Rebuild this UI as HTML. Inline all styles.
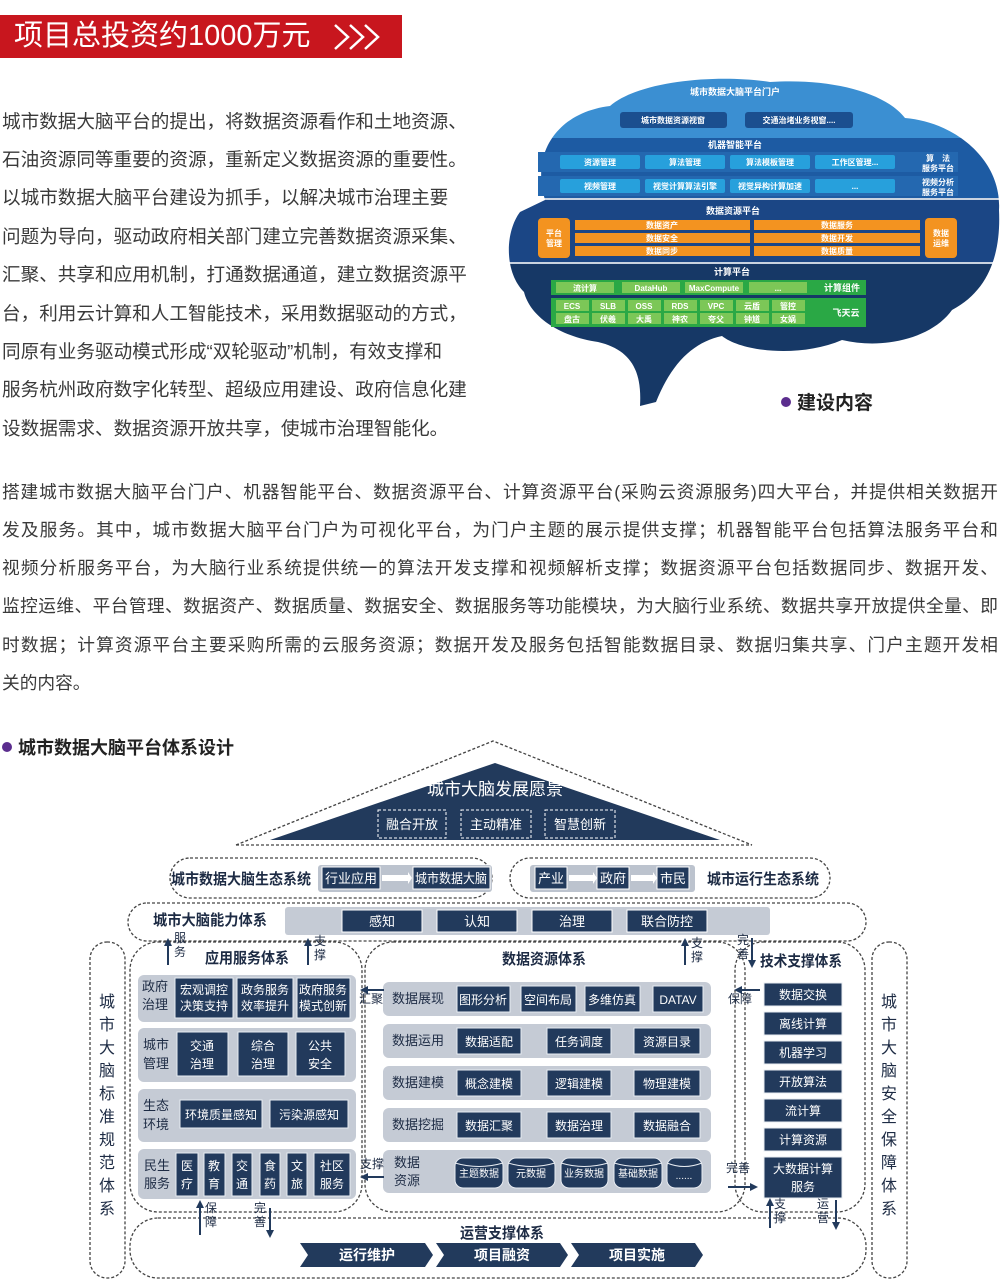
<!DOCTYPE html>
<html><head><meta charset="utf-8">
<style>
*{margin:0;padding:0;box-sizing:border-box}
body{width:1000px;height:1282px;background:#fff;position:relative;overflow:hidden;font-family:"Liberation Sans","Noto Sans CJK SC",sans-serif;color:#3a3a3a}
.l{position:absolute;left:2px;height:38px;line-height:38px;font-size:18.6px;white-space:nowrap}
.w{position:absolute;left:2px;width:996px;height:38px;line-height:38px;font-size:17.7px;text-align:justify;text-align-last:justify;white-space:nowrap}
svg text{font-family:"Liberation Sans","Noto Sans CJK SC",sans-serif}
</style></head><body>
<div style="position:absolute;left:0;top:15px;width:402px;height:43px;background:#c8161e"></div>
<div style="position:absolute;left:14px;top:15px;height:43px;line-height:43px;color:#fff;font-size:29px;white-space:nowrap">项目总投资约1000万元</div>
<svg style="position:absolute;left:330px;top:20px" width="60" height="34"><g fill="none" stroke="#fff" stroke-width="2.5"><polyline points="5,5 18,17 5,29"/><polyline points="20,5 33,17 20,29"/><polyline points="35,5 48,17 35,29"/></g></svg>

<div class="l" style="top:103px">城市数据大脑平台的提出，将数据资源看作和土地资源、</div>
<div class="l" style="top:141px">石油资源同等重要的资源，重新定义数据资源的重要性。</div>
<div class="l" style="top:179px">以城市数据大脑平台建设为抓手，以解决城市治理主要</div>
<div class="l" style="top:218px">问题为导向，驱动政府相关部门建立完善数据资源采集、</div>
<div class="l" style="top:256px">汇聚、共享和应用机制，打通数据通道，建立数据资源平</div>
<div class="l" style="top:295px">台，利用云计算和人工智能技术，采用数据驱动的方式，</div>
<div class="l" style="top:333px">同原有业务驱动模式形成“双轮驱动”机制，有效支撑和</div>
<div class="l" style="top:371px">服务杭州政府数字化转型、超级应用建设、政府信息化建</div>
<div class="l" style="top:410px">设数据需求、数据资源开放共享，使城市治理智能化。</div>

<div class="w" style="top:473px">搭建城市数据大脑平台门户、机器智能平台、数据资源平台、计算资源平台(采购云资源服务)四大平台，并提供相关数据开</div>
<div class="w" style="top:511px">发及服务。其中，城市数据大脑平台门户为可视化平台，为门户主题的展示提供支撑；机器智能平台包括算法服务平台和</div>
<div class="w" style="top:549px">视频分析服务平台，为大脑行业系统提供统一的算法开发支撑和视频解析支撑；数据资源平台包括数据同步、数据开发、</div>
<div class="w" style="top:587px">监控运维、平台管理、数据资产、数据质量、数据安全、数据服务等功能模块，为大脑行业系统、数据共享开放提供全量、即</div>
<div class="w" style="top:626px">时数据；计算资源平台主要采购所需的云服务资源；数据开发及服务包括智能数据目录、数据归集共享、门户主题开发相</div>
<div class="l" style="top:664px;font-size:17.7px">关的内容。</div>

<svg style="position:absolute;left:0;top:0" width="1000" height="1282">
<defs>
<clipPath id="br"><path d="M545 200 C530 150 560 112 610 106 C640 80 720 74 770 82 C830 78 885 92 905 118 C955 122 1002 160 999 210 C1001 252 990 290 952 310 C932 338 884 350 842 340 C800 358 742 352 722 336 C694 342 672 362 656 402 L640 406 C642 372 632 350 598 342 C558 336 530 316 524 292 C504 272 505 232 520 212 Z"/></clipPath>
</defs>
<g clip-path="url(#br)">
<rect x="500" y="60" width="500" height="78" fill="#3b8fd2"/>
<rect x="500" y="138" width="500" height="60" fill="#1d5ba3"/>
<rect x="500" y="200" width="500" height="62" fill="#1b4685"/>
<rect x="500" y="264" width="500" height="160" fill="#163866"/>
<rect x="500" y="198" width="500" height="2" fill="#c9d3e0"/>
<rect x="500" y="262" width="500" height="2" fill="#c9d3e0"/>
</g>
<g font-size="8" font-weight="bold" fill="#fff" text-anchor="middle">
<text x="735" y="95" font-size="9">城市数据大脑平台门户</text>
<rect x="620" y="112" width="107" height="16" rx="3" fill="#1b4f8f"/><text x="673" y="123">城市数据资源视窗</text>
<rect x="745" y="112" width="108" height="16" rx="3" fill="#1b4f8f"/><text x="799" y="123">交通治堵业务视窗....</text>
<text x="735" y="148" font-size="9">机器智能平台</text>
<rect x="538" y="152" width="420" height="20" fill="#2468b0"/><rect x="538" y="176" width="420" height="20" fill="#2468b0"/>
<rect x="560" y="155" width="80" height="14" rx="2" fill="#27a0dc"/><text x="600" y="165">资源管理</text>
<rect x="645" y="155" width="80" height="14" rx="2" fill="#27a0dc"/><text x="685" y="165">算法管理</text>
<rect x="730" y="155" width="80" height="14" rx="2" fill="#27a0dc"/><text x="770" y="165">算法模板管理</text>
<rect x="815" y="155" width="80" height="14" rx="2" fill="#27a0dc"/><text x="855" y="165">工作区管理...</text>
<rect x="560" y="179" width="80" height="14" rx="2" fill="#27a0dc"/><text x="600" y="189">视频管理</text>
<rect x="645" y="179" width="80" height="14" rx="2" fill="#27a0dc"/><text x="685" y="189">视觉计算算法引擎</text>
<rect x="730" y="179" width="80" height="14" rx="2" fill="#27a0dc"/><text x="770" y="189">视觉异构计算加速</text>
<rect x="815" y="179" width="80" height="14" rx="2" fill="#27a0dc"/><text x="855" y="189">...</text>
<text x="938" y="161">算　法</text><text x="938" y="171">服务平台</text>
<text x="938" y="185">视频分析</text><text x="938" y="195">服务平台</text>
<text x="733" y="214" font-size="9">数据资源平台</text>
<rect x="538" y="218" width="32" height="40" rx="4" fill="#f39320"/><text x="554" y="236">平台</text><text x="554" y="246">管理</text>
<rect x="925" y="218" width="32" height="40" rx="4" fill="#f39320"/><text x="941" y="236">数据</text><text x="941" y="246">运维</text>
<rect x="575" y="220" width="175" height="10" fill="#f39320"/><text x="662" y="228">数据资产</text>
<rect x="575" y="233" width="175" height="10" fill="#f39320"/><text x="662" y="241">数据安全</text>
<rect x="575" y="246" width="175" height="10" fill="#f39320"/><text x="662" y="254">数据同步</text>
<rect x="754" y="220" width="166" height="10" fill="#f39320"/><text x="837" y="228">数据服务</text>
<rect x="754" y="233" width="166" height="10" fill="#f39320"/><text x="837" y="241">数据开发</text>
<rect x="754" y="246" width="166" height="10" fill="#f39320"/><text x="837" y="254">数据质量</text>
<text x="732" y="275" font-size="9">计算平台</text>
<rect x="551" y="280" width="315" height="15" fill="#2aa845"/>
<rect x="556" y="282" width="58" height="11" fill="#7cc757"/><text x="585" y="291">流计算</text>
<rect x="622" y="282" width="58" height="11" fill="#7cc757"/><text x="651" y="291">DataHub</text>
<rect x="685" y="282" width="58" height="11" fill="#7cc757"/><text x="714" y="291">MaxCompute</text>
<rect x="749" y="282" width="58" height="11" fill="#7cc757"/><text x="778" y="291">...</text>
<text x="842" y="291" font-size="9">计算组件</text>
<rect x="551" y="298" width="315" height="29" fill="#2aa845"/>
<g>
<rect x="556" y="300" width="33" height="11" fill="#7cc757"/><text x="572" y="309">ECS</text>
<rect x="592" y="300" width="33" height="11" fill="#7cc757"/><text x="608" y="309">SLB</text>
<rect x="628" y="300" width="33" height="11" fill="#7cc757"/><text x="644" y="309">OSS</text>
<rect x="664" y="300" width="33" height="11" fill="#7cc757"/><text x="680" y="309">RDS</text>
<rect x="700" y="300" width="33" height="11" fill="#7cc757"/><text x="716" y="309">VPC</text>
<rect x="736" y="300" width="33" height="11" fill="#7cc757"/><text x="752" y="309">云盾</text>
<rect x="772" y="300" width="33" height="11" fill="#7cc757"/><text x="788" y="309">管控</text>
<rect x="556" y="313" width="33" height="11" fill="#7cc757"/><text x="572" y="322">盘古</text>
<rect x="592" y="313" width="33" height="11" fill="#7cc757"/><text x="608" y="322">伏羲</text>
<rect x="628" y="313" width="33" height="11" fill="#7cc757"/><text x="644" y="322">大禹</text>
<rect x="664" y="313" width="33" height="11" fill="#7cc757"/><text x="680" y="322">神农</text>
<rect x="700" y="313" width="33" height="11" fill="#7cc757"/><text x="716" y="322">夸父</text>
<rect x="736" y="313" width="33" height="11" fill="#7cc757"/><text x="752" y="322">钟馗</text>
<rect x="772" y="313" width="33" height="11" fill="#7cc757"/><text x="788" y="322">女娲</text>
</g>
<text x="846" y="316" font-size="9">飞天云</text>
</g>
<circle cx="786" cy="402" r="5" fill="#5b2d8e"/>
<text x="797" y="409" font-size="19" font-weight="bold" fill="#222">建设内容</text>

<circle cx="7" cy="747" r="5" fill="#5b2d8e"/>
<text x="18" y="754" font-size="18" font-weight="bold" fill="#222">城市数据大脑平台体系设计</text>

<g fill="none" stroke="#444" stroke-width="1.3" stroke-dasharray="3,2">
<polyline points="236,845 493,741 752,845"/>
<line x1="236" y1="845" x2="752" y2="845"/>
<rect x="170" y="858" width="322" height="40" rx="20"/>
<rect x="510" y="858" width="320" height="40" rx="20"/>
<rect x="128" y="903" width="738" height="38" rx="19"/>
<rect x="90" y="942" width="35" height="336" rx="17"/>
<rect x="872" y="942" width="35" height="336" rx="17"/>
<rect x="130" y="942" width="232" height="270" rx="28"/>
<rect x="365" y="942" width="380" height="270" rx="28"/>
<rect x="735" y="942" width="130" height="270" rx="28"/>
<rect x="130" y="1218" width="736" height="60" rx="28"/>
</g>
<polygon points="495,763 270,840 720,840" fill="#223a5c"/>
<text x="495" y="795" font-size="17" fill="#fff" text-anchor="middle">城市大脑发展愿景</text>
<g fill="none" stroke="#fff" stroke-dasharray="3,2"><rect x="378" y="810" width="68" height="28"/><rect x="461" y="810" width="70" height="28"/><rect x="545" y="810" width="70" height="28"/></g>
<g font-size="13" fill="#fff" text-anchor="middle"><text x="412" y="829">融合开放</text><text x="496" y="829">主动精准</text><text x="580" y="829">智慧创新</text></g>

<g font-size="15" font-weight="bold" fill="#1d2b44">
<text x="171" y="884" textLength="140" lengthAdjust="spacingAndGlyphs">城市数据大脑生态系统</text>
<text x="707" y="884" textLength="112" lengthAdjust="spacingAndGlyphs">城市运行生态系统</text>
<text x="153" y="925" textLength="114" lengthAdjust="spacingAndGlyphs">城市大脑能力体系</text>
<text x="205" y="963" textLength="84" lengthAdjust="spacingAndGlyphs">应用服务体系</text>
<text x="502" y="964" textLength="84" lengthAdjust="spacingAndGlyphs">数据资源体系</text>
<text x="760" y="966" textLength="82" lengthAdjust="spacingAndGlyphs">技术支撑体系</text>
<text x="460" y="1238" textLength="84" lengthAdjust="spacingAndGlyphs">运营支撑体系</text>
</g>
<rect x="318" y="865" width="174" height="27" rx="3" fill="#bcc3ce"/>
<rect x="530" y="865" width="165" height="27" rx="3" fill="#bcc3ce"/>
<rect x="285" y="907" width="485" height="28" rx="3" fill="#c5cbd5"/>
<g fill="#223a5c" stroke="#fff" stroke-width="1">
<rect x="322" y="867" width="58" height="22"/><rect x="413" y="867" width="77" height="22"/>
<rect x="535" y="867" width="32" height="22"/><rect x="597" y="867" width="32" height="22"/><rect x="657" y="867" width="32" height="22"/>
<rect x="342" y="910" width="80" height="22"/><rect x="437" y="910" width="80" height="22"/><rect x="532" y="910" width="80" height="22"/><rect x="627" y="910" width="80" height="22"/>
</g>
<g fill="#fff"><polygon points="382,875 408,875 408,872 412,878 408,884 408,881 382,881"/><polygon points="569,875 593,875 593,872 597,878 593,884 593,881 569,881"/><polygon points="631,875 653,875 653,872 657,878 653,884 653,881 631,881"/></g>
<g font-size="13" fill="#fff" text-anchor="middle">
<text x="351" y="883" textLength="52" lengthAdjust="spacingAndGlyphs">行业应用</text><text x="451" y="883" textLength="72" lengthAdjust="spacingAndGlyphs">城市数据大脑</text>
<text x="551" y="883">产业</text><text x="613" y="883">政府</text><text x="673" y="883">市民</text>
<text x="382" y="926">感知</text><text x="477" y="926">认知</text><text x="572" y="926">治理</text><text x="667" y="926">联合防控</text>
</g>

<g font-size="16" fill="#1d2b44" text-anchor="middle">
<text x="107" y="1007">城</text><text x="107" y="1030">市</text><text x="107" y="1053">大</text><text x="107" y="1076">脑</text><text x="107" y="1099">标</text><text x="107" y="1122">准</text><text x="107" y="1145">规</text><text x="107" y="1168">范</text><text x="107" y="1191">体</text><text x="107" y="1214">系</text>
<text x="889" y="1007">城</text><text x="889" y="1030">市</text><text x="889" y="1053">大</text><text x="889" y="1076">脑</text><text x="889" y="1099">安</text><text x="889" y="1122">全</text><text x="889" y="1145">保</text><text x="889" y="1168">障</text><text x="889" y="1191">体</text><text x="889" y="1214">系</text>
</g>

<g fill="#c5cbd5">
<rect x="138" y="975" width="218" height="47" rx="6"/><rect x="138" y="1028" width="218" height="54" rx="6"/><rect x="138" y="1089" width="218" height="53" rx="6"/><rect x="138" y="1149" width="218" height="50" rx="6"/>
<rect x="383" y="982" width="328" height="34" rx="6"/><rect x="383" y="1024" width="328" height="34" rx="6"/><rect x="383" y="1066" width="328" height="34" rx="6"/><rect x="383" y="1108" width="328" height="34" rx="6"/><rect x="383" y="1150" width="328" height="43" rx="6"/>
</g>
<g font-size="13" fill="#1d2b44" text-anchor="middle">
<text x="155" y="991">政府</text><text x="155" y="1009">治理</text>
<text x="156" y="1049">城市</text><text x="156" y="1068">管理</text>
<text x="156" y="1110">生态</text><text x="156" y="1129">环境</text>
<text x="157" y="1170">民生</text><text x="157" y="1188">服务</text>
<text x="418" y="1003">数据展现</text><text x="418" y="1045">数据运用</text><text x="418" y="1087">数据建模</text><text x="418" y="1129">数据挖掘</text>
<text x="407" y="1167">数据</text><text x="407" y="1185">资源</text>
</g>
<g fill="#223a5c" stroke="#e8ecf2" stroke-width="1">
<rect x="175" y="978" width="58" height="40"/><rect x="237" y="978" width="56" height="40"/><rect x="297" y="978" width="53" height="40"/>
<rect x="177" y="1032" width="51" height="44"/><rect x="238" y="1032" width="50" height="44"/><rect x="296" y="1032" width="49" height="44"/>
<rect x="180" y="1100" width="82" height="28"/><rect x="270" y="1100" width="78" height="28"/>
<rect x="176" y="1153" width="22" height="43"/><rect x="204" y="1153" width="21" height="43"/><rect x="232" y="1153" width="20" height="43"/><rect x="260" y="1153" width="20" height="43"/><rect x="287" y="1153" width="20" height="43"/><rect x="314" y="1153" width="36" height="43"/>
<rect x="457" y="986" width="53" height="26"/><rect x="521" y="986" width="55" height="26"/><rect x="585" y="986" width="55" height="26"/><rect x="653" y="986" width="50" height="26"/>
<rect x="457" y="1028" width="64" height="26"/><rect x="547" y="1028" width="64" height="26"/><rect x="634" y="1028" width="66" height="26"/>
<rect x="457" y="1070" width="64" height="26"/><rect x="547" y="1070" width="64" height="26"/><rect x="634" y="1070" width="66" height="26"/>
<rect x="457" y="1112" width="64" height="26"/><rect x="547" y="1112" width="64" height="26"/><rect x="634" y="1112" width="66" height="26"/>
<rect x="764" y="983" width="78" height="23"/><rect x="764" y="1012" width="78" height="23"/><rect x="764" y="1041" width="78" height="23"/><rect x="764" y="1070" width="78" height="23"/><rect x="764" y="1099" width="78" height="23"/><rect x="764" y="1128" width="78" height="23"/><rect x="764" y="1157" width="78" height="41"/>
</g>
<g fill="#223a5c" stroke="#e8ecf2">
<rect x="455" y="1158" width="48" height="30" rx="8"/><rect x="508" y="1158" width="47" height="30" rx="8"/><rect x="561" y="1158" width="47" height="30" rx="8"/><rect x="614" y="1158" width="48" height="30" rx="8"/><rect x="667" y="1158" width="35" height="30" rx="8"/>
</g>
<g fill="none" stroke="#e8ecf2"><path d="M455 1163 Q479 1170 503 1163"/><path d="M508 1163 Q531 1170 555 1163"/><path d="M561 1163 Q584 1170 608 1163"/><path d="M614 1163 Q638 1170 662 1163"/><path d="M667 1163 Q684 1170 702 1163"/></g>
<g font-size="12" fill="#fff" text-anchor="middle">
<text x="204" y="994">宏观调控</text><text x="204" y="1010">决策支持</text>
<text x="265" y="994">政务服务</text><text x="265" y="1010">效率提升</text>
<text x="323" y="994">政府服务</text><text x="323" y="1010">模式创新</text>
<text x="202" y="1050">交通</text><text x="202" y="1068">治理</text>
<text x="263" y="1050">综合</text><text x="263" y="1068">治理</text>
<text x="320" y="1050">公共</text><text x="320" y="1068">安全</text>
<text x="221" y="1119">环境质量感知</text><text x="309" y="1119">污染源感知</text>
<text x="187" y="1170">医</text><text x="187" y="1188">疗</text>
<text x="214" y="1170">教</text><text x="214" y="1188">育</text>
<text x="242" y="1170">交</text><text x="242" y="1188">通</text>
<text x="270" y="1170">食</text><text x="270" y="1188">药</text>
<text x="297" y="1170">文</text><text x="297" y="1188">旅</text>
<text x="332" y="1170">社区</text><text x="332" y="1188">服务</text>
<text x="483" y="1004">图形分析</text><text x="548" y="1004">空间布局</text><text x="612" y="1004">多维仿真</text><text x="678" y="1004">DATAV</text>
<text x="489" y="1046">数据适配</text><text x="579" y="1046">任务调度</text><text x="667" y="1046">资源目录</text>
<text x="489" y="1088">概念建模</text><text x="579" y="1088">逻辑建模</text><text x="667" y="1088">物理建模</text>
<text x="489" y="1130">数据汇聚</text><text x="579" y="1130">数据治理</text><text x="667" y="1130">数据融合</text>
<text x="803" y="999">数据交换</text><text x="803" y="1028">离线计算</text><text x="803" y="1057">机器学习</text><text x="803" y="1086">开放算法</text><text x="803" y="1115">流计算</text><text x="803" y="1144">计算资源</text>
<text x="803" y="1173">大数据计算</text><text x="803" y="1191">服务</text>
</g>
<g font-size="10" fill="#fff" text-anchor="middle"><text x="479" y="1177">主题数据</text><text x="531" y="1177">元数据</text><text x="584" y="1177">业务数据</text><text x="638" y="1177">基础数据</text><text x="684" y="1179">......</text></g>

<g fill="#223a5c">
<polygon points="300,1243 425,1243 433,1255 425,1267 300,1267 308,1255"/>
<polygon points="436,1243 560,1243 568,1255 560,1267 436,1267 444,1255"/>
<polygon points="571,1243 695,1243 703,1255 695,1267 571,1267 579,1255"/>
</g>
<g font-size="14" fill="#fff" text-anchor="middle" font-weight="bold"><text x="367" y="1260">运行维护</text><text x="502" y="1260">项目融资</text><text x="637" y="1260">项目实施</text></g>

<g stroke="#223a5c" stroke-width="2" fill="#223a5c">
<line x1="168" y1="965" x2="168" y2="944"/><polygon points="164,946 172,946 168,938" stroke="none"/>
<line x1="308" y1="965" x2="308" y2="944"/><polygon points="304,946 312,946 308,938" stroke="none"/>
<line x1="685" y1="965" x2="685" y2="944"/><polygon points="681,946 689,946 685,938" stroke="none"/>
<line x1="752" y1="938" x2="752" y2="962"/><polygon points="748,960 756,960 752,968" stroke="none"/>
<line x1="384" y1="990" x2="366" y2="990"/><polygon points="368,986 368,994 360,990" stroke="none"/>
<line x1="760" y1="990" x2="740" y2="990"/><polygon points="742,986 742,994 734,990" stroke="none"/>
<line x1="384" y1="1177" x2="366" y2="1177"/><polygon points="368,1173 368,1181 360,1177" stroke="none"/>
<line x1="728" y1="1187" x2="752" y2="1187"/><polygon points="750,1183 750,1191 758,1187" stroke="none"/>
<line x1="200" y1="1235" x2="200" y2="1206"/><polygon points="196,1208 204,1208 200,1200" stroke="none"/>
<line x1="270" y1="1208" x2="270" y2="1232"/><polygon points="266,1230 274,1230 270,1238" stroke="none"/>
<line x1="770" y1="1228" x2="770" y2="1204"/><polygon points="766,1206 774,1206 770,1198" stroke="none"/>
<line x1="836" y1="1200" x2="836" y2="1224"/><polygon points="832,1222 840,1222 836,1230" stroke="none"/>
</g>
<g font-size="12" fill="#1d2b44" text-anchor="middle">
<text x="180" y="942">服</text><text x="180" y="956">务</text>
<text x="320" y="945">支</text><text x="320" y="959">撑</text>
<text x="697" y="947">支</text><text x="697" y="961">撑</text>
<text x="743" y="944">完</text><text x="743" y="958">善</text>
<text x="371" y="1003">汇聚</text><text x="740" y="1003">保障</text>
<text x="372" y="1168">支撑</text><text x="738" y="1172">完善</text>
<text x="211" y="1212">保</text><text x="211" y="1226">障</text>
<text x="260" y="1212">完</text><text x="260" y="1226">善</text>
<text x="780" y="1208">支</text><text x="780" y="1222">撑</text>
<text x="823" y="1208">运</text><text x="823" y="1222">营</text>
</g>
</svg>
</body></html>
